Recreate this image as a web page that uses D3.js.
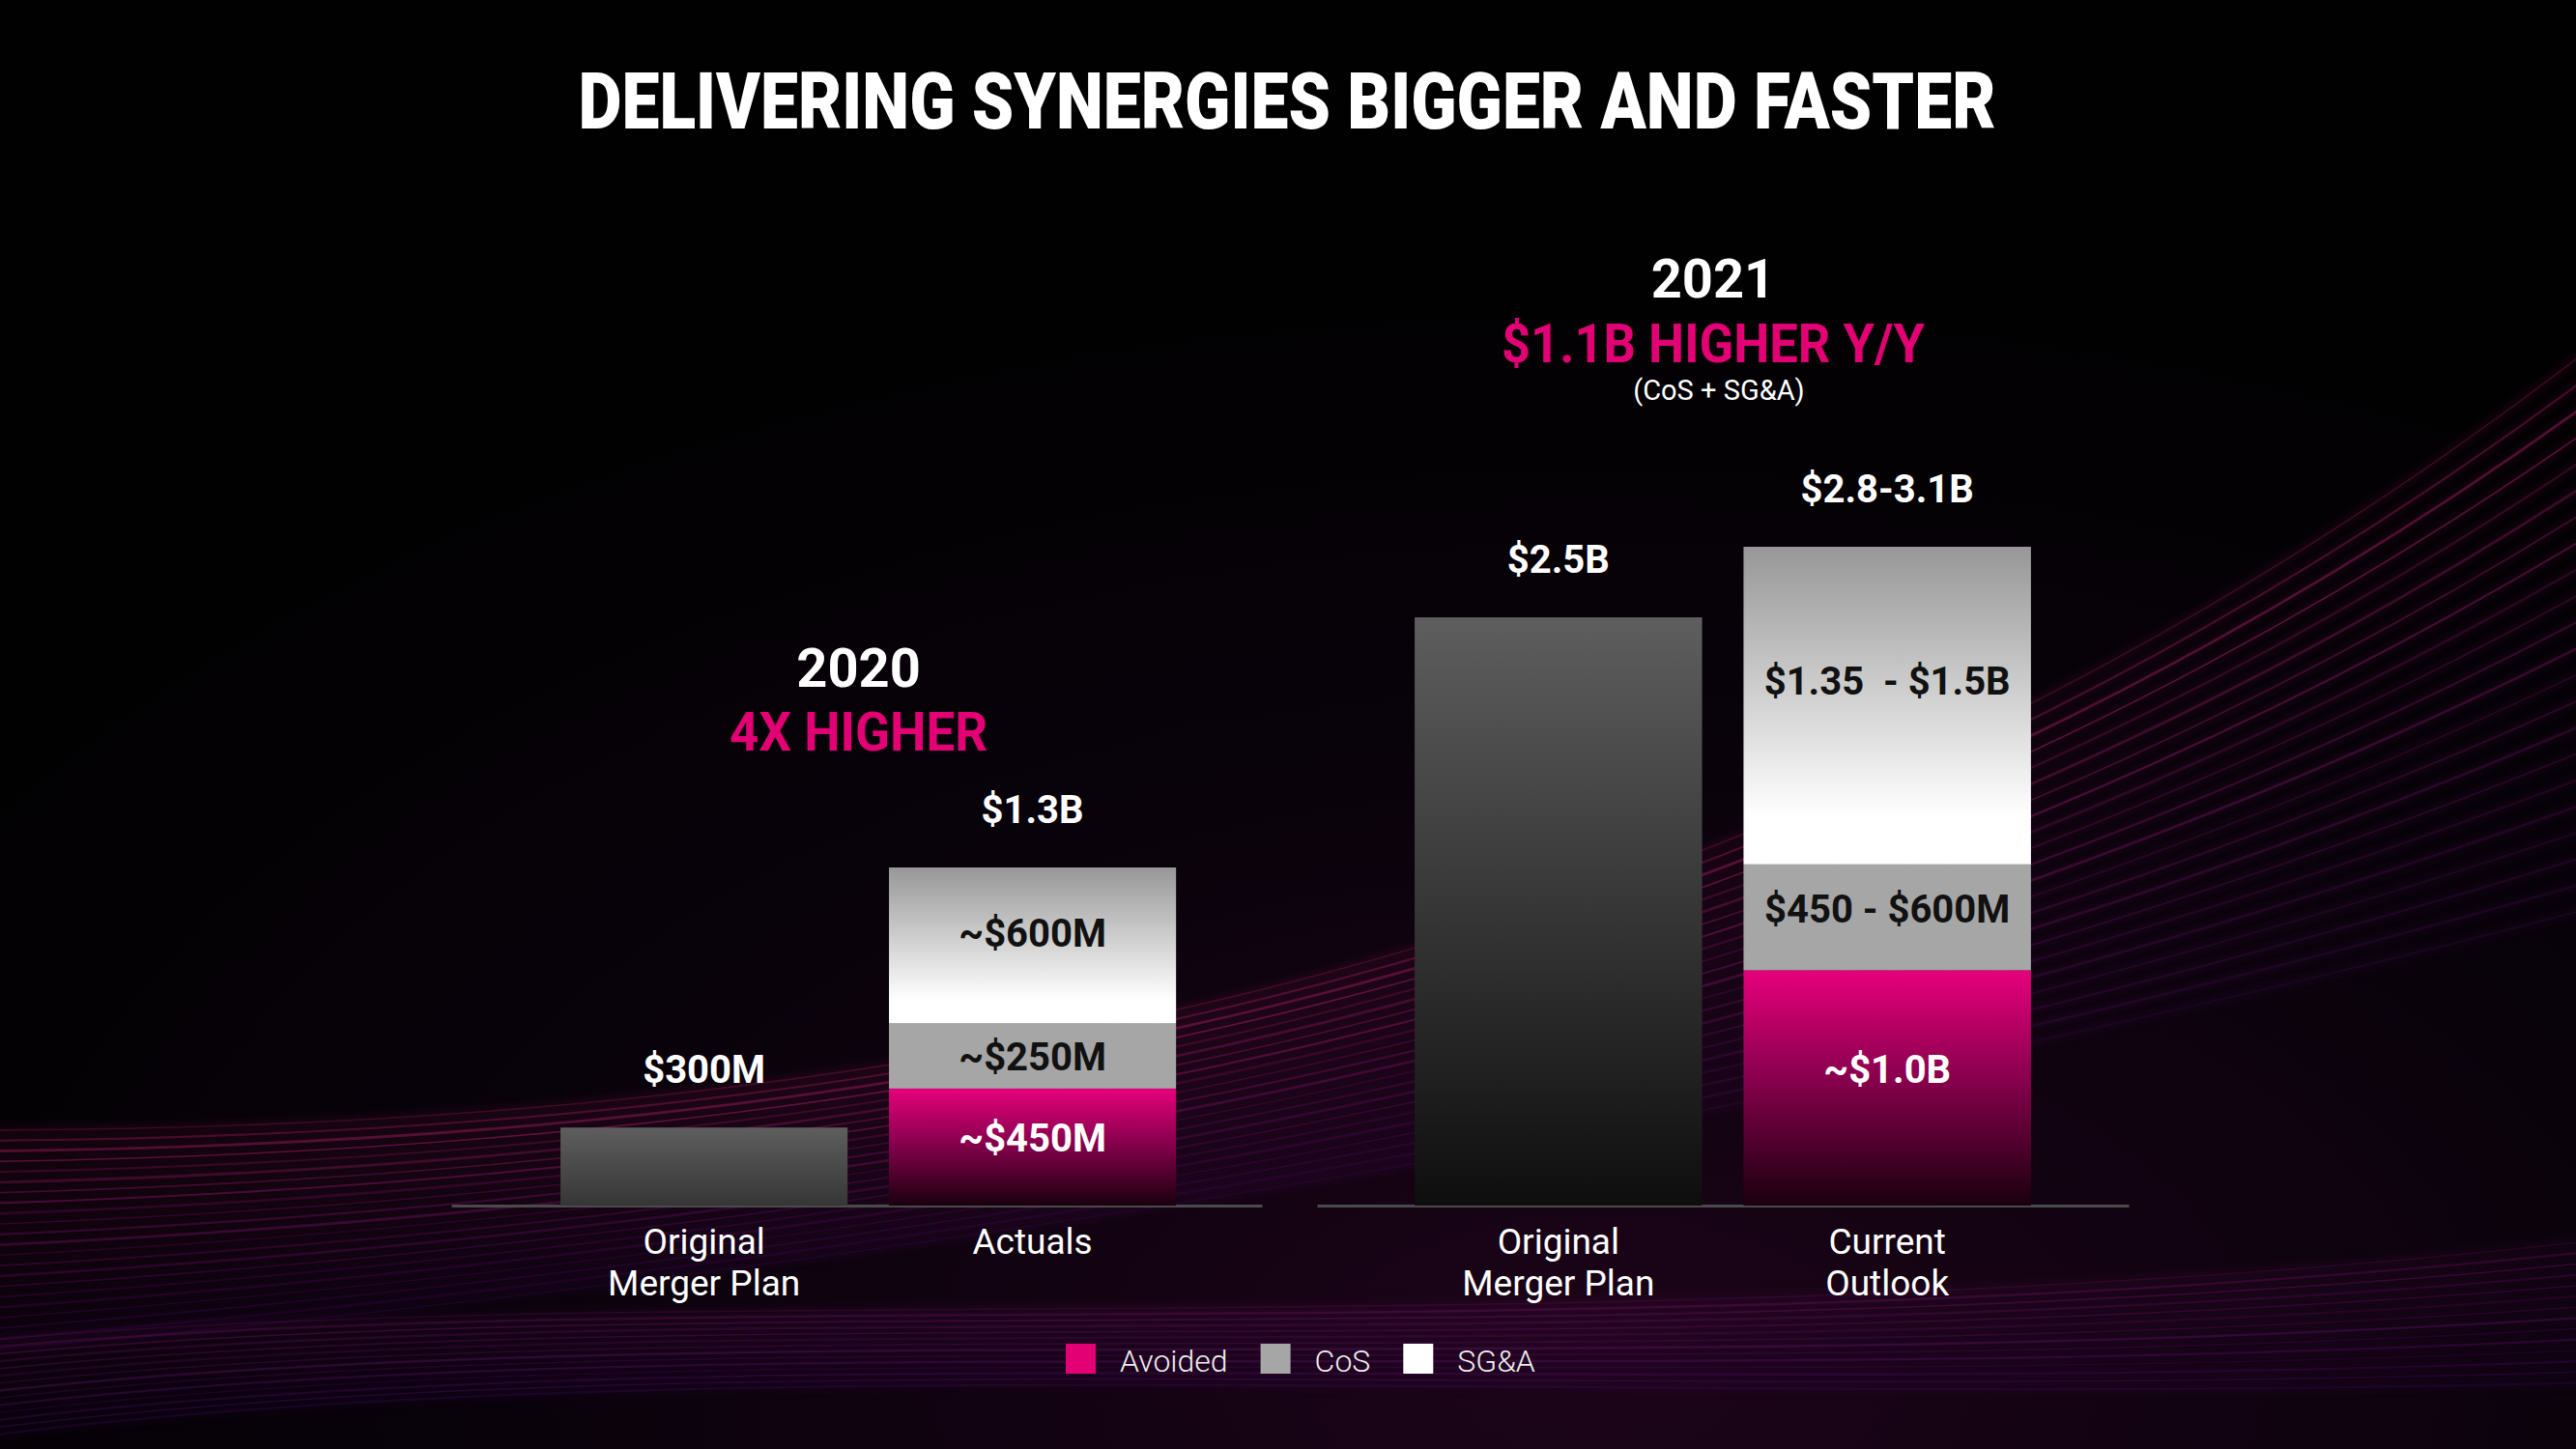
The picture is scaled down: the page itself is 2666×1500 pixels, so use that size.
<!DOCTYPE html>
<html>
<head>
<meta charset="utf-8">
<script src="https://cdn.jsdelivr.net/npm/d3@7"></script>
<style>
  html, body { margin: 0; padding: 0; background: #000; }
  svg { display: block; }
</style>
</head>
<body>
<div id="chart"></div>
<script>
// ---- data (values in $M; ranges drawn at their low end) ----
const barNames = ["Original Merger Plan", "Actuals", "Original Merger Plan", "Current Outlook"];
const barYears = ["2020", "2020", "2021", "2021"];
const planValues = [300, 0, 2500, 0];
const avoidedValues = [0, 450, 0, 1000];
const cosValues = [0, 250, 0, 450];
const sgaValues = [0, 600, 0, 1350];

const totalLabels = ["$300M", "$1.3B", "$2.5B", "$2.8-3.1B"];
const avoidedLabels = ["", "~$450M", "", "~$1.0B"];
const cosLabels = ["", "~$250M", "", "$450 - $600M"];
const sgaLabels = ["", "~$600M", "", "$1.35  - $1.5B"];

const years = ["2020", "2021"];
const yearHeadlines = ["4X HIGHER", "$1.1B HIGHER Y/Y"];
const yearNotes = ["", "(CoS + SG&A)"];
const legendKeys = ["Avoided", "CoS", "SG&A"];

// ---- layout ----
const width = 2666, height = 1500;
const baseline = 1248;
const groupRange = { "2020": [467, 1306], "2021": [1363, 2203] };
const groupTop = { "2020": 898, "2021": 566 };
const groupAlign = { "2020": 0.56, "2021": 0.5 };
const magenta = "#e20074";

const svg = d3.select("#chart")
    .append("svg")
    .attr("width", width)
    .attr("height", height);

const defs = svg.append("defs");

// background
const bgGlow = defs.append("radialGradient")
    .attr("id", "bgGlow")
    .attr("cx", 0.62).attr("cy", 0.95).attr("r", 0.75);
bgGlow.append("stop").attr("offset", 0).attr("stop-color", "#1c0419");
bgGlow.append("stop").attr("offset", 0.6).attr("stop-color", "#08020a");
bgGlow.append("stop").attr("offset", 1).attr("stop-color", "#020102");

svg.append("rect")
    .attr("width", width)
    .attr("height", height)
    .attr("fill", "url(#bgGlow)");

defs.append("filter").attr("id", "soft")
    .attr("x", "-10%").attr("y", "-10%").attr("width", "120%").attr("height", "120%")
    .append("feGaussianBlur").attr("stdDeviation", 4);

// Swoosh streaks behind the bars (decoration)
const streaks = svg.append("g");
function swoosh(p0, c1, c2, p1) {
    const p = d3.path();
    p.moveTo(p0[0], p0[1]);
    p.bezierCurveTo(c1[0], c1[1], c2[0], c2[1], p1[0], p1[1]);
    return p.toString();
}
const nA = 22;
for (let i = 0; i < nA; i++) {
    const t = i / (nA - 1);
    const d = swoosh([-40, 1170 + t * 230], [900, 1170 + t * 150], [1850, 1020 + t * 140], [2720, 330 + t * 600]);
    const col = d3.interpolateRgb("#ff2f92", "#7d1a9c")(t);
    streaks.append("path").attr("d", d).attr("fill", "none")
        .attr("stroke", col).attr("stroke-width", 8).attr("opacity", 0.08)
        .attr("filter", "url(#soft)");
    streaks.append("path").attr("d", d).attr("fill", "none")
        .attr("stroke", col).attr("stroke-width", 1.6 + (i % 3) * 0.6)
        .attr("opacity", 0.12 + 0.18 * (1 - t) * ((i % 4) / 3 + 0.3));
}
const nB = 14;
for (let i = 0; i < nB; i++) {
    const t = i / (nB - 1);
    const d = swoosh([-40, 1390 + t * 100], [700, 1320 + t * 70], [1700, 1400 + t * 60], [2720, 1280 + t * 150]);
    const col = d3.interpolateRgb("#a0208f", "#5a1480")(t);
    streaks.append("path").attr("d", d).attr("fill", "none")
        .attr("stroke", col).attr("stroke-width", 10).attr("opacity", 0.06)
        .attr("filter", "url(#soft)");
    streaks.append("path").attr("d", d).attr("fill", "none")
        .attr("stroke", col).attr("stroke-width", 1.5 + (i % 2))
        .attr("opacity", 0.14 + 0.12 * ((i * 7) % 5) / 4);
}

// ---- gradients for the bar segments ----
const avoidedGrad = defs.append("linearGradient").attr("id", "avoidedGrad")
    .attr("x1", 0).attr("y1", 0).attr("x2", 0).attr("y2", 1);
avoidedGrad.append("stop").attr("offset", 0).attr("stop-color", "#e6007b");
avoidedGrad.append("stop").attr("offset", 0.45).attr("stop-color", "#8a004e");
avoidedGrad.append("stop").attr("offset", 1).attr("stop-color", "#1a000e");

const sgaGrad = defs.append("linearGradient").attr("id", "sgaGrad")
    .attr("x1", 0).attr("y1", 0).attr("x2", 0).attr("y2", 1);
sgaGrad.append("stop").attr("offset", 0).attr("stop-color", "#979797");
sgaGrad.append("stop").attr("offset", 0.85).attr("stop-color", "#ffffff");
sgaGrad.append("stop").attr("offset", 1).attr("stop-color", "#ffffff");

// ---- data rows / stack ----
const rows = barNames.map((name, i) => ({
    name: name,
    year: barYears[i],
    plan: planValues[i],
    avoided: avoidedValues[i],
    cos: cosValues[i],
    sga: sgaValues[i]
}));
const keys = ["plan", "avoided", "cos", "sga"];
const series = d3.stack().keys(keys)(rows);
const totals = rows.map(r => r.plan + r.avoided + r.cos + r.sga);

// one band scale + one y scale per year panel
const xScales = {}, yScales = {};
years.forEach(yr => {
    const idx = d3.range(rows.length).filter(i => barYears[i] === yr);
    xScales[yr] = d3.scaleBand()
        .domain(idx.map(i => barNames[i]))
        .range(groupRange[yr])
        .paddingInner(0.126)
        .paddingOuter(0.297)
        .align(groupAlign[yr]);
    yScales[yr] = d3.scaleLinear()
        .domain([0, d3.max(idx, i => totals[i])])
        .range([baseline, groupTop[yr]]);
});

// plan bar gradients (tall bars fade darker)
rows.forEach((r, i) => {
    if (!r.plan) return;
    const h = baseline - yScales[r.year](r.plan);
    const g = defs.append("linearGradient").attr("id", "plan-" + i)
        .attr("x1", 0).attr("y1", 0).attr("x2", 0).attr("y2", 1);
    g.append("stop").attr("offset", 0).attr("stop-color", "#5e5e5e");
    g.append("stop").attr("offset", 1)
        .attr("stop-color", d3.interpolateRgb("#3c3c3c", "#0e0e0e")(Math.min(1, h / 600)));
});

const fills = { plan: i => `url(#plan-${i})`, avoided: () => "url(#avoidedGrad)", cos: () => "#a6a6a6", sga: () => "url(#sgaGrad)" };
const segLabels = { avoided: avoidedLabels, cos: cosLabels, sga: sgaLabels };
const segText = { avoided: "#ffffff", cos: "#111111", sga: "#111111" };

// axes (baseline + category labels)
const catLines = barNames.map(n => n === "Original Merger Plan" ? ["Original", "Merger Plan"]
    : n === "Current Outlook" ? ["Current", "Outlook"] : [n]);

years.forEach(yr => {
    const ax = svg.append("g")
        .attr("transform", `translate(0, ${baseline})`)
        .call(d3.axisBottom(xScales[yr]).tickSize(0).tickSizeOuter(0));
    ax.select(".domain").attr("stroke", "#4a4a4a").attr("stroke-width", 3);
    ax.selectAll(".tick text").each(function (name) {
        const i = rows.findIndex(r => r.name === name && r.year === yr);
        const t = d3.select(this)
            .attr("y", 0).attr("dy", null)
            .attr("fill", "#ffffff")
            .style("font-family", "Roboto, 'Open Sans', sans-serif")
            .style("font-size", "37px")
            .text(null);
        catLines[i].forEach((line, k) => {
            t.append("tspan").attr("x", 0).attr("y", 50 + k * 43).text(line);
        });
    });
});

// bars
const barG = svg.append("g");
series.forEach(s => {
    const key = s.key;
    s.forEach((d, i) => {
        if (d[1] - d[0] <= 0) return;
        const yr = barYears[i];
        const x = xScales[yr], y = yScales[yr];
        const top = y(d[1]), h = y(d[0]) - y(d[1]);
        barG.append("rect")
            .attr("x", x(barNames[i]))
            .attr("y", top)
            .attr("width", x.bandwidth())
            .attr("height", h)
            .attr("fill", fills[key](i));
        if (segLabels[key] && segLabels[key][i]) {
            barG.append("text")
                .attr("x", x(barNames[i]) + x.bandwidth() / 2)
                .attr("y", top + h * (h < 100 ? 0.5 : 0.42))
                .attr("dy", "0.36em")
                .attr("text-anchor", "middle")
                .attr("fill", segText[key])
                .style("font-family", "Roboto, sans-serif")
                .style("font-weight", 700)
                .style("font-size", "40px")
                .style("white-space", "pre")
                .text(segLabels[key][i]);
        }
    });
});

// totals above bars
rows.forEach((r, i) => {
    const x = xScales[r.year], y = yScales[r.year];
    svg.append("text")
        .attr("x", x(r.name) + x.bandwidth() / 2)
        .attr("y", y(totals[i]) - 46)
        .attr("text-anchor", "middle")
        .attr("fill", "#ffffff")
        .style("font-family", "Roboto, sans-serif")
        .style("font-weight", 700)
        .style("font-size", "40px")
        .text(totalLabels[i]);
});

// year headlines
const headY = { "2020": [711, 777, 0], "2021": [308, 375, 414] };
years.forEach((yr, k) => {
    const x = xScales[yr];
    const cx = d3.mean(x.domain(), n => x(n) + x.bandwidth() / 2) - 10;
    svg.append("text")
        .attr("x", cx).attr("y", headY[yr][0])
        .attr("text-anchor", "middle").attr("fill", "#ffffff")
        .style("font-family", "Roboto, sans-serif").style("font-weight", 700)
        .style("font-size", "56px")
        .text(yr);
    svg.append("text")
        .attr("x", cx).attr("y", headY[yr][1])
        .attr("text-anchor", "middle").attr("fill", magenta)
        .attr("textLength", k === 0 ? 267 : 438).attr("lengthAdjust", "spacingAndGlyphs")
        .style("font-family", "Roboto, sans-serif").style("font-weight", 700)
        .style("font-size", "55px")
        .text(yearHeadlines[k]);
    if (yearNotes[k]) {
        svg.append("text")
            .attr("x", cx + 6).attr("y", headY[yr][2])
            .attr("text-anchor", "middle").attr("fill", "#ffffff")
            .style("font-family", "Roboto, sans-serif")
            .style("font-size", "29px")
            .text(yearNotes[k]);
    }
});

// title
svg.append("text")
    .attr("x", 1332)
    .attr("y", 133)
    .attr("text-anchor", "middle")
    .attr("fill", "#ffffff")
    .attr("textLength", 1467)
    .attr("lengthAdjust", "spacingAndGlyphs")
    .style("font-family", "Roboto, sans-serif")
    .style("font-weight", 900)
    .style("font-size", "82px")
    .text("DELIVERING SYNERGIES BIGGER AND FASTER");

// legend
const legendColors = [magenta, "#a6a6a6", "#ffffff"];
const legend = svg.append("g");
let lx = 1103;
legendKeys.forEach((k, i) => {
    legend.append("rect")
        .attr("x", lx).attr("y", 1391)
        .attr("width", 31).attr("height", 31)
        .attr("fill", legendColors[i]);
    const t = legend.append("text")
        .attr("x", lx + 56).attr("y", 1420)
        .attr("fill", "#eeeeee")
        .style("font-family", "Roboto, sans-serif")
        .style("font-weight", 300)
        .style("font-size", "32px")
        .text(k);
    lx += 56 + t.node().getComputedTextLength() + 34;
});
</script>
</body>
</html>
